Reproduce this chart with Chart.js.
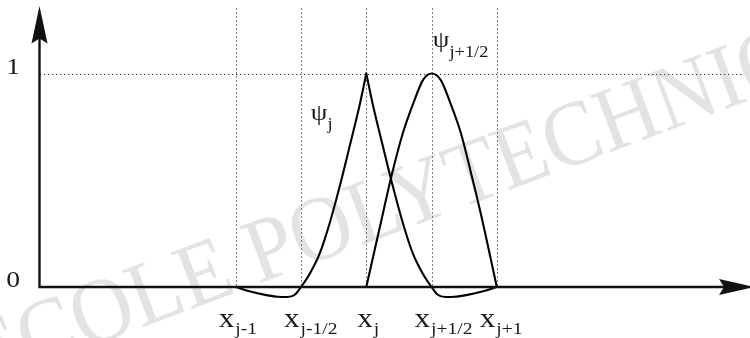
<!DOCTYPE html>
<html>
<head>
<meta charset="utf-8">
<script src="https://cdn.jsdelivr.net/npm/chart.js@4.4.1/dist/chart.umd.min.js"></script>
<style>
  html, body { margin: 0; padding: 0; background: #fff; }
  #wrap { width: 750px; height: 338px; }
</style>
</head>
<body>
<div id="wrap"><canvas id="basisChart" width="750" height="338"></canvas></div>
<script>
// mesh nodes (in half-cell units) and their subscripts
const nodeX = [3, 4, 5, 6, 7];
const nodeSub = ['j-1', 'j-1/2', 'j', 'j+1/2', 'j+1'];
const yTicks = [0, 1];

// psi_j, vertex basis function (split at the node so the peak stays sharp)
const psiJLeftX = [3.0, 3.21, 3.45, 3.65, 3.79, 3.91, 4.0, 4.14, 4.29, 4.44, 4.6, 4.75, 4.9, 5.0];
const psiJLeftY = [0, -0.02, -0.037, -0.046, -0.047, -0.035, 0, 0.066, 0.16, 0.3, 0.48, 0.665, 0.855, 1.0];
const psiJRightX = [5.0, 5.1, 5.25, 5.4, 5.56, 5.71, 5.86, 6.0, 6.09, 6.21, 6.35, 6.55, 6.79, 7.0];
const psiJRightY = [1.0, 0.855, 0.665, 0.48, 0.3, 0.16, 0.066, 0, -0.035, -0.047, -0.046, -0.037, -0.02, 0];

// psi_{j+1/2}, midpoint bubble
const psiHalfX = [5.0, 5.2, 5.39, 5.56, 5.72, 5.87, 6.0, 6.14, 6.29, 6.45, 6.6, 6.75, 7.0];
const psiHalfY = [0, 0.27, 0.525, 0.72, 0.86, 0.97, 1.0, 0.97, 0.86, 0.72, 0.54, 0.35, 0];

const toPoints = (xs, ys) => xs.map((x, i) => ({ x: x, y: ys[i] }));

const SERIF = '"Liberation Serif", "Times New Roman", serif';
const STRETCH = 1.15;

function stretchedText(ctx, str, x, y, size, align) {
    ctx.save();
    ctx.font = size + 'px ' + SERIF;
    ctx.textAlign = align || 'left';
    ctx.textBaseline = 'alphabetic';
    ctx.translate(x, y);
    ctx.scale(STRETCH, 1);
    ctx.fillText(str, 0, 0);
    const w = ctx.measureText(str).width * STRETCH;
    ctx.restore();
    return w;
}

function subText(ctx, main, sub, x, y, mainSize, subSize, dx, dy) {
    const w = stretchedText(ctx, main, x, y, mainSize);
    stretchedText(ctx, sub, x + w + dx, y + dy, subSize);
}

const figurePlugin = {
    id: 'figure',
    beforeDraw(chart) {
        const ctx = chart.ctx;
        ctx.save();
        ctx.fillStyle = '#fff';
        ctx.fillRect(0, 0, chart.width, chart.height);
        // watermark, anchored on the "P"
        ctx.font = '85px ' + SERIF;
        ctx.fillStyle = '#e3e3e3';
        const pre = ctx.measureText('ECOLE ').width;
        ctx.translate(258, 284);
        ctx.rotate(-20.5 * Math.PI / 180);
        ctx.scale(1, 1.08);
        ctx.fillText('ECOLE POLYTECHNIQUE', -pre, 0);
        ctx.restore();
    },
    beforeDatasetsDraw(chart) {
        const ctx = chart.ctx;
        const xs = chart.scales.x, ys = chart.scales.y;
        const y0 = ys.getPixelForValue(0);
        const yTop = ys.getPixelForValue(1.305);
        const y1 = ys.getPixelForValue(1);
        ctx.save();
        ctx.strokeStyle = '#333';
        ctx.lineWidth = 1;
        ctx.setLineDash([1.2, 2.8]);
        nodeX.forEach(v => {
            const px = Math.round(xs.getPixelForValue(v)) + 0.5;
            ctx.beginPath();
            ctx.moveTo(px, yTop);
            ctx.lineTo(px, y0);
            ctx.stroke();
        });
        ctx.beginPath();
        ctx.moveTo(xs.getPixelForValue(0), Math.round(y1) + 0.5);
        ctx.lineTo(chart.chartArea.right - 7, Math.round(y1) + 0.5);
        ctx.stroke();
        ctx.restore();
    },
    afterDatasetsDraw(chart) {
        const ctx = chart.ctx;
        const xs = chart.scales.x, ys = chart.scales.y;
        const ox = xs.getPixelForValue(0) - 0.5;
        const oy = ys.getPixelForValue(0);
        ctx.save();
        ctx.strokeStyle = '#111';
        ctx.fillStyle = '#111';
        ctx.lineWidth = 2.4;
        // axes
        ctx.beginPath();
        ctx.moveTo(ox, 38);
        ctx.lineTo(ox, oy);
        ctx.lineTo(725, oy);
        ctx.stroke();
        // arrow heads
        ctx.beginPath();
        ctx.moveTo(ox, 6);
        ctx.lineTo(ox + 8, 43.5);
        ctx.lineTo(ox, 38.5);
        ctx.lineTo(ox - 8, 43.5);
        ctx.closePath();
        ctx.fill();
        ctx.beginPath();
        ctx.moveTo(754, oy);
        ctx.lineTo(719, oy - 8);
        ctx.lineTo(724, oy);
        ctx.lineTo(719, oy + 8);
        ctx.closePath();
        ctx.fill();

        // y tick labels
        ctx.fillStyle = '#1a1a1a';
        yTicks.forEach(v => {
            stretchedText(ctx, String(v), 20, ys.getPixelForValue(v), 24, 'right');
        });
        // node labels
        nodeX.forEach((v, i) => {
            const px = xs.getPixelForValue(v);
            const left = nodeSub[i] === 'j' ? px - 9 : px - 17;
            subText(ctx, 'x', nodeSub[i], left, 327, 27, 17, 1, 7);
        });
        // curve names
        subText(ctx, '\u03C8', 'j', xs.getPixelForValue(4.15), ys.getPixelForValue(0.782), 23, 16, 0, 9);
        subText(ctx, '\u03C8', 'j+1/2', xs.getPixelForValue(6.02), ys.getPixelForValue(1.124), 23, 16, 0, 10);
        ctx.restore();
    }
};

const lineStyle = {
    borderColor: '#000',
    borderWidth: 2.1,
    pointRadius: 0,
    fill: false,
    cubicInterpolationMode: 'monotone',
    borderCapStyle: 'round',
    borderJoinStyle: 'round'
};

new Chart(document.getElementById('basisChart').getContext('2d'), {
    type: 'line',
    data: {
        datasets: [
            Object.assign({ label: 'psi_j', data: toPoints(psiJLeftX, psiJLeftY) }, lineStyle),
            Object.assign({ label: 'psi_j ', data: toPoints(psiJRightX, psiJRightY) }, lineStyle),
            Object.assign({ label: 'psi_j+1/2', data: toPoints(psiHalfX, psiHalfY) }, lineStyle)
        ]
    },
    options: {
        responsive: false,
        devicePixelRatio: 1,
        animation: false,
        layout: { padding: { left: 40, right: 0, top: 9.45, bottom: 8.3 } },
        scales: {
            x: { type: 'linear', min: 0, max: 10.88, display: false },
            y: { type: 'linear', min: -0.2, max: 1.3, display: false }
        },
        plugins: {
            legend: { display: false },
            tooltip: { enabled: false }
        }
    },
    plugins: [figurePlugin]
});
</script>
</body>
</html>
